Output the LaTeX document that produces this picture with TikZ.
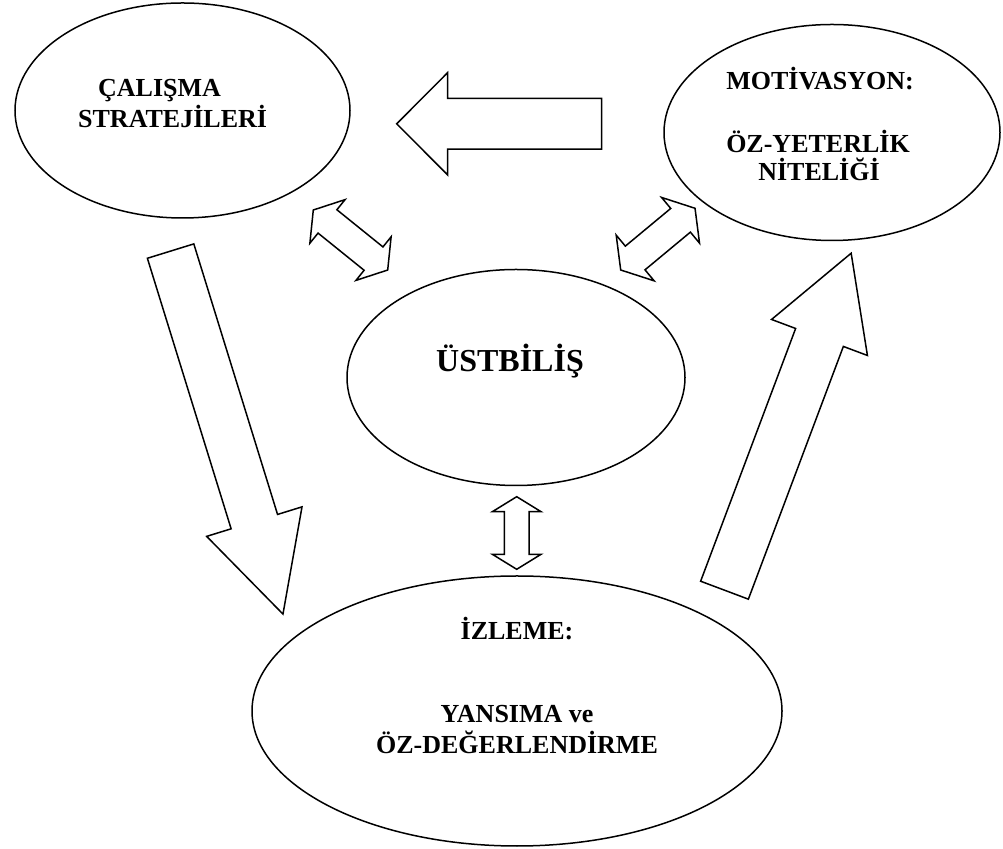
\documentclass[tikz,border=0pt]{standalone}
\usepackage{fontspec}
\setmainfont{Liberation Serif}
\usetikzlibrary{shapes.geometric}
\tikzset{
  bubble/.style={draw, ellipse, line width=1.5pt, inner sep=0pt},
  lbl/.style={font=\bfseries\fontsize{26}{31}\selectfont, inner sep=0pt, anchor=base},
  biglbl/.style={font=\bfseries\fontsize{32}{38}\selectfont, inner sep=0pt, anchor=base},
  blk/.style={draw, line width=1.5pt, line join=miter, fill=white},
}
% #1 name, #2 tail point, #3 angle, #4 length, #5 shaft half width, #6 head half width, #7 head length
\newcommand{\myblockarrow}[7]{%
  \begin{scope}[shift={#2}, rotate=#3]
    \draw[blk] (0,-#5) coordinate (#1-tail) -- ({#4-#7},-#5) -- ({#4-#7},-#6) -- (#4,0) coordinate (#1-tip)
      -- ({#4-#7},#6) -- ({#4-#7},#5) -- (0,#5) -- cycle;
  \end{scope}}
% #1 name, #2 first tip, #3 angle, #4 length, #5 shaft half width, #6 head half width, #7 head length
\newcommand{\mydblarrow}[7]{%
  \begin{scope}[shift={#2}, rotate=#3]
    \draw[blk] (0,0) coordinate (#1-a) -- (#7,#6) -- (#7,#5) -- ({#4-#7},#5) -- ({#4-#7},#6) -- (#4,0) coordinate (#1-b)
      -- ({#4-#7},-#6) -- ({#4-#7},-#5) -- (#7,-#5) -- (#7,-#6) -- cycle;
  \end{scope}}
\begin{document}
\begin{tikzpicture}[x=1pt, y=1pt]
\useasboundingbox (0,0) rectangle (1003,848);
% ellipses
\node[bubble, minimum width=335pt, minimum height=215pt] (calisma) at (182.5,737.5) {};
\node[bubble, minimum width=336pt, minimum height=216pt] (motiv) at (832,715.5) {};
\node[bubble, minimum width=338pt, minimum height=216pt] (ust) at (516,470.5) {};
\node[bubble, minimum width=530pt, minimum height=270pt] (izleme) at (517,137) {};
% labels
\node[lbl, anchor=base west] (t1) at (98,751) {ÇALIŞMA};
\node[lbl, anchor=base west] (t2) at (78,720) {STRATEJİLERİ};
\node[lbl] (t3) at (820,758.7) {MOTİVASYON:};
\node[lbl] (t4) at (818,695.7) {ÖZ-YETERLİK};
\node[lbl] (t5) at (819,667) {NİTELİĞİ};
\node[biglbl] (t6) at (510,476.3) {ÜSTBİLİŞ};
\node[lbl] (t7) at (517,208) {İZLEME:};
\node[lbl] (t8) at (517,125) {YANSIMA ve};
\node[lbl] (t9) at (517,94) {ÖZ-DEĞERLENDİRME};
% block arrows
\myblockarrow{left}{(601.7,724.2)}{180}{205}{25.3}{51.2}{51}
\myblockarrow{down}{(170.6,596.9)}{-72.8}{380}{24.3}{49.9}{96.8}
\myblockarrow{up}{(724.5,257.8)}{69.4}{360}{25.5}{51.2}{90}
% double arrows
\mydblarrow{dl}{(313.3,638)}{-38.9}{95.6}{15}{28}{18.2}
\mydblarrow{dr}{(620.7,578)}{39.7}{96.6}{15.4}{29.7}{18.8}
\mydblarrow{dv}{(516.7,351.3)}{-90}{72.6}{12.35}{24.35}{15}
\end{tikzpicture}
\end{document}
